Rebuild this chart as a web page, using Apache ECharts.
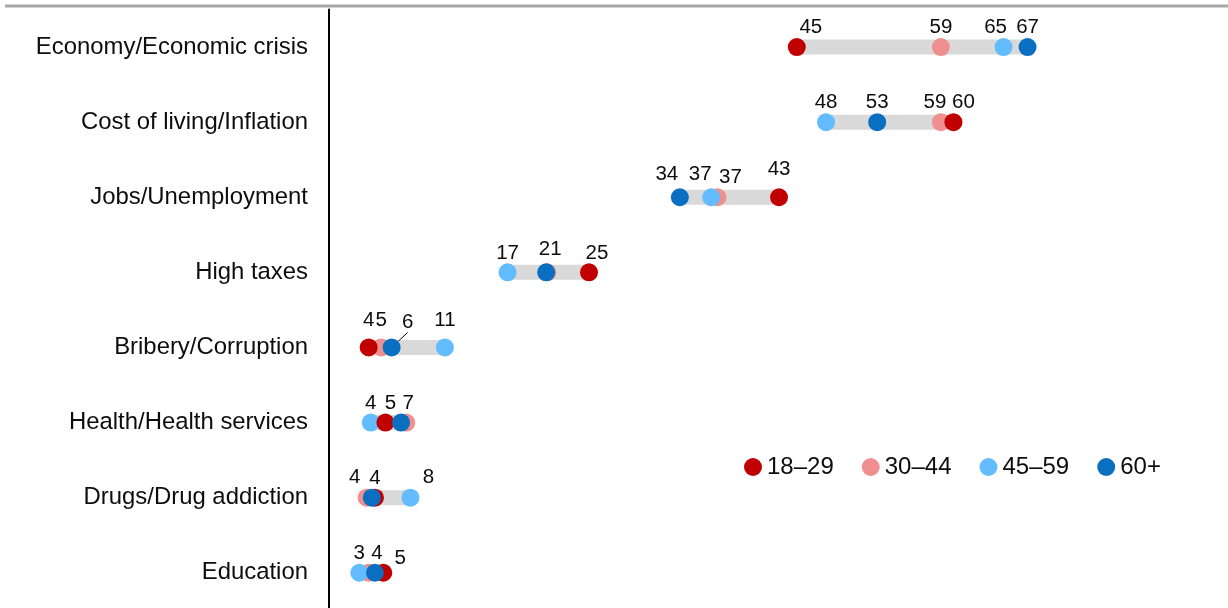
<!DOCTYPE html>
<html>
<head>
<meta charset="utf-8">
<script src="https://cdn.jsdelivr.net/npm/echarts@6/dist/echarts.min.js"></script>
<style>
  html, body { margin: 0; padding: 0; background: #fff; overflow: hidden; }
  #chart { width: 1228px; height: 612px; }
</style>
</head>
<body>
<div id="chart"></div>
<script>
// ---- Data ----
const categories = [
  'Economy/Economic crisis',
  'Cost of living/Inflation',
  'Jobs/Unemployment',
  'High taxes',
  'Bribery/Corruption',
  'Health/Health services',
  'Drugs/Drug addiction',
  'Education'
];
const ageGroups = ['18–29', '30–44', '45–59', '60+'];
const age18_29 = [44.8, 59.8, 43.1, 24.9, 3.8, 5.4, 4.4, 5.2];
const age30_44 = [58.6, 58.6, 37.2, 20.9, 5.0, 7.4, 3.6, 3.8];
const age45_59 = [64.6, 47.6, 36.6, 17.1, 11.1, 4.0, 7.8, 2.9];
const age60plus = [66.9, 52.5, 33.6, 20.8, 6.0, 6.9, 4.1, 4.4];

// ---- Styling (not data) ----
const colors = ['#C00000', '#F08F8F', '#63BCFF', '#0A6FC0'];
const zOrder = [4, 2, 3, 5];
const hiddenLabels = { 1: [3, 7], 3: [5, 6] };          // seriesIdx: [category idx]
const labelNudge = {                                      // seriesIdx: {catIdx: [dx, dy]}
  0: { 0: [14, 0], 1: [10, 0], 2: [0, -8], 3: [8, 0], 4: [0, -8], 5: [5, 0], 7: [17, 5] },
  1: { 1: [-6, 0], 2: [13, 0], 4: [0, -8], 5: [2, 0], 6: [-12, -1] },
  2: { 0: [-8, 0], 2: [-11, -3], 4: [0, -8], 6: [18, -1] },
  3: { 2: [-13, -3], 3: [4, -4], 4: [16, -6], 7: [2, 0] }
};
const leaderLines = { 3: [4] };

const seriesValues = [age18_29, age30_44, age45_59, age60plus];
const FONT = '"Liberation Sans", Arial, sans-serif';

const chart = echarts.init(document.getElementById('chart'), null, { renderer: 'canvas' });

const rangeData = categories.map((c, i) => {
  const vals = seriesValues.map(s => s[i]);
  return [i, Math.min(...vals), Math.max(...vals)];
});

const scatterSeries = ageGroups.map((name, si) => ({
  name: name,
  type: 'scatter',
  z: zOrder[si],
  symbol: 'circle',
  symbolSize: 18,
  itemStyle: { color: colors[si], opacity: 1 },
  label: {
    show: true,
    position: 'top',
    distance: 0,
    fontFamily: FONT,
    fontSize: 20.5,
    color: '#0d0d0d',
    formatter: p => String(Math.round(p.value[0]))
  },
  emphasis: { disabled: true },
  data: seriesValues[si].map((v, ci) => {
    const item = { value: [v, ci] };
    if ((hiddenLabels[si] || []).includes(ci)) item.label = { show: false };
    if ((leaderLines[si] || []).includes(ci)) {
      item.labelLine = { show: true, lineStyle: { color: '#000', width: 1 }, length2: 0 };
    }
    return item;
  }),
  labelLayout: params => {
    const n = (labelNudge[si] || {})[params.dataIndex];
    return n ? { dx: n[0], dy: n[1] } : {};
  }
}));

const option = {
  animation: false,
  backgroundColor: '#fff',
  grid: { left: 329, right: 1, top: 9.5, height: 600.8, containLabel: false },
  xAxis: {
    type: 'value',
    min: 0,
    max: 86,
    show: false
  },
  yAxis: {
    type: 'category',
    data: categories,
    inverse: true,
    axisLine: { show: true, lineStyle: { color: '#000', width: 2 } },
    axisTick: { show: false },
    splitLine: { show: false },
    axisLabel: {
      fontFamily: FONT,
      fontSize: 23.9,
      color: '#0d0d0d',
      margin: 21
    }
  },
  legend: {
    data: ageGroups,
    left: 739,
    top: 450,
    icon: 'circle',
    itemWidth: 18,
    itemHeight: 18,
    itemGap: 28,
    selectedMode: false,
    textStyle: { fontFamily: FONT, fontSize: 24, color: '#0d0d0d', padding: [0, 0, 0, 0] }
  },
  graphic: [{
    type: 'line',
    shape: { x1: 5, y1: 6, x2: 1228, y2: 6 },
    style: { stroke: '#a6a6a6', lineWidth: 3 },
    silent: true
  }],
  series: [{
    type: 'custom',
    z: 1,
    silent: true,
    renderItem: (params, api) => {
      const cat = api.value(0);
      const p1 = api.coord([api.value(1), cat]);
      const p2 = api.coord([api.value(2), cat]);
      const h = 15;
      return {
        type: 'rect',
        shape: { x: p1[0], y: p1[1] - h / 2, width: p2[0] - p1[0], height: h },
        style: { fill: '#d9d9d9' }
      };
    },
    encode: { x: [1, 2], y: 0 },
    data: rangeData
  }].concat(scatterSeries)
};

chart.setOption(option);
</script>
</body>
</html>
